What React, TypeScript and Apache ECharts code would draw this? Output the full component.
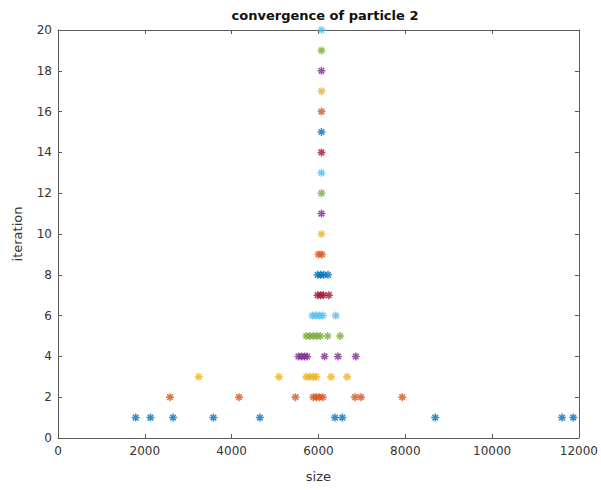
import React, { useEffect, useRef } from "react";
import * as echarts from "echarts";

const iterations = [1, 2, 3, 4, 5, 6, 7, 8, 9, 10, 11, 12, 13, 14, 15, 16, 17, 18, 19, 20];

const sizeByIteration: number[][] = [
  [1790, 2130, 2650, 3580, 4650, 6380, 6550, 8690, 11610, 11870],
  [2580, 4170, 5470, 5880, 5950, 6020, 6100, 6840, 6980, 7930],
  [3240, 5090, 5720, 5800, 5880, 5950, 6290, 6660],
  [5540, 5610, 5680, 5740, 6140, 6450, 6860],
  [5720, 5800, 5880, 5960, 6040, 6210, 6500],
  [5860, 5940, 6020, 6100, 6400],
  [5980, 6050, 6110, 6240],
  [5980, 6050, 6120, 6220],
  [6000, 6080],
  [6070],
  [6070],
  [6070],
  [6070],
  [6070],
  [6070],
  [6070],
  [6070],
  [6070],
  [6070],
  [6070],
];

const colorOrder = ["#0072BD", "#D95319", "#EDB120", "#7E2F8E", "#77AC30", "#4DBEEE", "#A2142F"];

const xTicks = { min: 0, max: 12000, interval: 2000 };
const yTicks = { min: 0, max: 20, interval: 2 };

const asterisk = "path://M0,-1L0,1M-1,0L1,0M-0.7,-0.7L0.7,0.7M-0.7,0.7L0.7,-0.7";

export default function App() {
  const ref = useRef<HTMLDivElement>(null);
  useEffect(() => {
    document.body.style.margin = "0";
    const chart = echarts.init(ref.current!, null, { renderer: "svg" });
    const axisColor = "#5a5a5a";
    const font = "DejaVu Sans";
    const labelStyle = { color: "#333", fontFamily: font, fontSize: 12 };
    const series = iterations.map((it, i) => {
      const c = colorOrder[i % colorOrder.length];
      return {
        type: "scatter",
        name: "iter" + it,
        symbol: asterisk,
        symbolSize: 8,
        itemStyle: { color: c, borderColor: c, borderWidth: 1.5 },
        data: sizeByIteration[i].map((v) => [v, it]),
      };
    });
    chart.setOption({
      animation: false,
      backgroundColor: "#fff",
      title: {
        text: "convergence of particle 2",
        left: 320,
        top: 4,
        textAlign: "center",
        textStyle: { fontFamily: font, fontSize: 13, fontWeight: "bold", color: "#111" },
      },
      grid: { left: 58, right: 20, top: 30, bottom: 52, containLabel: false },
      xAxis: [
        {
          type: "value",
          ...xTicks,
          name: "size",
          nameLocation: "middle",
          nameGap: 32,
          nameTextStyle: { fontFamily: font, fontSize: 13, color: "#333" },
          axisLine: { show: true, lineStyle: { color: axisColor } },
          axisTick: { show: true, inside: true, length: 4, lineStyle: { color: axisColor } },
          axisLabel: { ...labelStyle, margin: 7, formatter: (v: number) => String(v) },
          splitLine: { show: false },
        },
        {
          type: "value",
          position: "top",
          ...xTicks,
          axisLine: { show: true, onZero: false, lineStyle: { color: axisColor } },
          axisTick: { show: true, inside: true, length: 4, lineStyle: { color: axisColor } },
          axisLabel: { show: false },
          splitLine: { show: false },
        },
      ],
      yAxis: [
        {
          type: "value",
          ...yTicks,
          name: "iteration",
          nameLocation: "middle",
          nameGap: 34,
          nameTextStyle: { fontFamily: font, fontSize: 13, color: "#333" },
          axisLine: { show: true, lineStyle: { color: axisColor } },
          axisTick: { show: true, inside: true, length: 4, lineStyle: { color: axisColor } },
          axisLabel: { ...labelStyle, margin: 6 },
          splitLine: { show: false },
        },
        {
          type: "value",
          position: "right",
          ...yTicks,
          axisLine: { show: true, onZero: false, lineStyle: { color: axisColor } },
          axisTick: { show: true, inside: true, length: 4, lineStyle: { color: axisColor } },
          axisLabel: { show: false },
          splitLine: { show: false },
        },
      ],
      series,
    });
    return () => chart.dispose();
  }, []);
  return <div ref={ref} style={{ width: 601, height: 490 }} />;
}
